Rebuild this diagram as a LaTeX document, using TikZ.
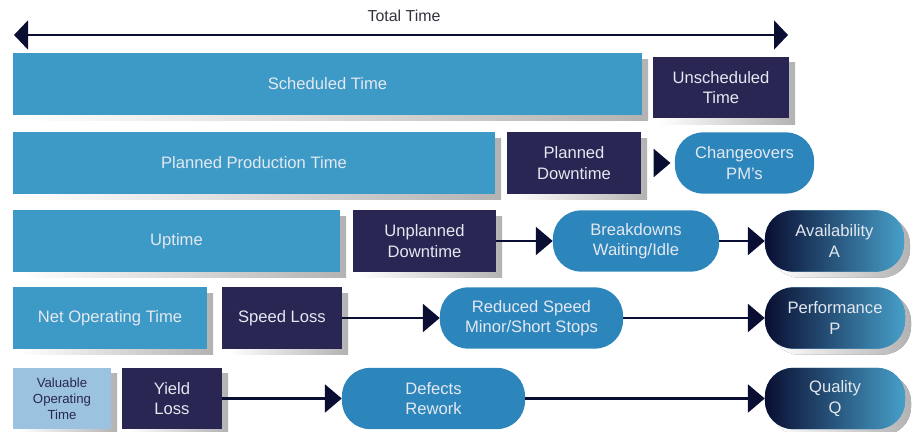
\documentclass[tikz,border=0pt]{standalone}
\usepackage{fontspec}
\setmainfont{Liberation Sans}
\usetikzlibrary{arrows.meta, shadows, positioning}

\definecolor{timeblue}{RGB}{61,154,198}
\definecolor{lossnavy}{RGB}{42,38,84}
\definecolor{causeblue}{RGB}{44,134,188}
\definecolor{paleblue}{RGB}{155,195,224}
\definecolor{arrowink}{RGB}{10,14,50}
\definecolor{boxtext}{RGB}{228,232,240}
\definecolor{labelgray}{RGB}{50,50,60}

\tikzset{
  boxshadow/.style={drop shadow={shadow xshift=0.15cm, shadow yshift=-0.15cm,
    left color=white, right color=black!30, opacity=1}},
  timebox/.style={rectangle, fill=timeblue, text=boxtext, minimum height=1.53cm,
    inner sep=0pt, align=center, font=\fontsize{11.8}{14.4}\selectfont, boxshadow},
  lossbox/.style={timebox, fill=lossnavy},
  causebox/.style={rectangle, rounded corners=0.7cm, fill=causeblue, text=boxtext,
    minimum height=1.53cm, inner sep=0pt, align=center, font=\fontsize{11.8}{14.4}\selectfont},
  kpibox/.style={causebox, left color=arrowink, right color=timeblue!95, boxshadow},
  flow/.style={draw=arrowink, line width=1.5pt, -{Triangle[length=0.42cm,width=0.7cm]}}
}

\begin{document}
\begin{tikzpicture}[x=0.025cm, y=-0.025cm]
	\useasboundingbox (0,0) rectangle (914,432);

	% total time axis
	\coordinate (tl) at (14,35);
	\coordinate (tr) at (788,35);
	\draw[draw=arrowink, line width=2pt, {Triangle[length=0.35cm,width=0.72cm]}-{Triangle[length=0.35cm,width=0.72cm]}] (tl) -- (tr);
	\node[text=labelgray, font=\fontsize{11.3}{13}\selectfont] (total) at (404,16) {Total Time};

	% row 1
	\node[timebox, minimum width=15.73cm] (sched) at (327.5,84) {Scheduled Time};
	\node[lossbox, minimum width=3.4cm] (unsched) at (721,87.5) {Unscheduled\\Time};

	% row 2
	\node[timebox, minimum width=12.05cm] (planprod) at (254,163) {Planned Production Time};
	\node[lossbox, minimum width=3.35cm] (plandown) at (574,163) {Planned\\Downtime};
	\node[causebox, minimum width=3.475cm] (changeov) at (744.5,163) {Changeovers\\PM’s};
	\coordinate (pdgap) at (654,163);

	% row 3
	\node[timebox, minimum width=8.175cm] (uptime) at (176.5,241) {Uptime};
	\node[lossbox, minimum width=3.575cm] (unplan) at (424.5,241) {Unplanned\\Downtime};
	\node[causebox, minimum width=4.15cm] (breakdn) at (636,241) {Breakdowns\\Waiting/Idle};
	\node[kpibox, minimum width=3.475cm] (avail) at (834.5,241) {Availability\\A};

	% row 4
	\node[timebox, minimum width=4.85cm] (netop) at (110,318) {Net Operating Time};
	\node[lossbox, minimum width=3cm] (speed) at (282,318) {Speed Loss};
	\node[causebox, minimum width=4.575cm] (reduced) at (531.5,318) {Reduced Speed\\Minor/Short Stops};
	\node[kpibox, minimum width=3.5cm] (perf) at (835,318) {Performance\\P};

	% row 5
	\node[timebox, fill=paleblue, text=lossnavy, font=\fontsize{9.4}{11.3}\selectfont,
	  minimum width=2.45cm] (valuable) at (62,398.5) {Valuable\\Operating\\Time};
	\node[lossbox, minimum width=2.5cm] (yield) at (172,398.5) {Yield\\Loss};
	\node[causebox, minimum width=4.575cm] (defects) at (433.5,398.5) {Defects\\Rework};
	\node[kpibox, minimum width=3.5cm] (quality) at (835,398.5) {Quality\\Q};

	% loss flows
	\draw[flow, shorten >=3pt] (pdgap) -- (changeov);
	\draw[flow] (unplan) -- (breakdn);
	\draw[flow] (breakdn) -- (avail);
	\draw[flow] (speed) -- (reduced);
	\draw[flow] (reduced) -- (perf);
	\draw[flow] (yield) -- (defects);
	\draw[flow] (defects) -- (quality);
\end{tikzpicture}
\end{document}
